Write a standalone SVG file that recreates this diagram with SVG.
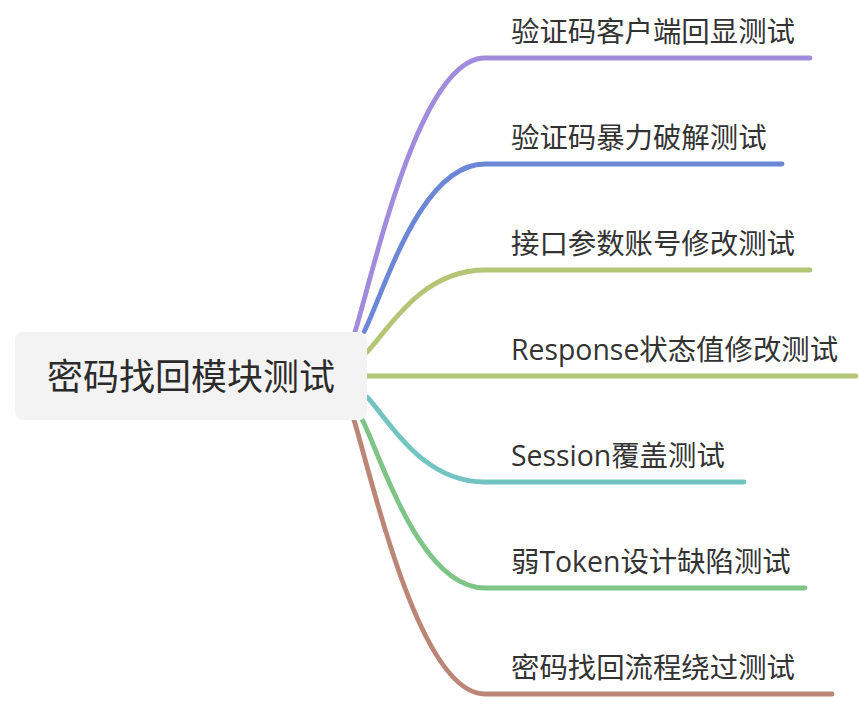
<svg xmlns="http://www.w3.org/2000/svg" width="860" height="712" viewBox="0 0 860 712">
<style>
.br{fill:none;stroke-width:4.8;stroke-linecap:round}
.leaf{font-family:"Open Sans","Noto Sans CJK SC",sans-serif;font-size:28.4px;fill:#333333}
.root{font-family:"Open Sans","Noto Sans CJK SC",sans-serif;font-size:36px;fill:#2b2b2b}
</style>
<rect width="860" height="712" fill="#ffffff"/>
<g id="connectors">
<path class="br" stroke="#a08bdc" d="M355,332 C375,266 420,58 485,58 H810"/>
<path class="br" stroke="#6b87d6" d="M364,332 C384,292 420,164 485,164 H782"/>
<path class="br" stroke="#b4c576" d="M367,352 C387,332 420,270 485,270 H810"/>
<path class="br" stroke="#b4c576" d="M367,376 H856"/>
<path class="br" stroke="#73c4c0" d="M367,397 C387,417 420,482 485,482 H744"/>
<path class="br" stroke="#7dc486" d="M362,419 C382,459 420,588 485,588 H805"/>
<path class="br" stroke="#bb8675" d="M354,420 C374,486 420,694 485,694 H832"/>
</g>
<g id="root">
<rect x="15" y="332" width="352" height="88" rx="8" fill="#f3f3f3"/>
<text class="root" x="191" y="390" text-anchor="middle">密码找回模块测试</text>
</g>
<g id="n1"><text class="leaf" x="511" y="42">验证码客户端回显测试</text></g>
<g id="n2"><text class="leaf" x="511" y="148">验证码暴力破解测试</text></g>
<g id="n3"><text class="leaf" x="511" y="254">接口参数账号修改测试</text></g>
<g id="n4"><text class="leaf" x="511" y="360">Response状态值修改测试</text></g>
<g id="n5"><text class="leaf" x="511" y="466">Session覆盖测试</text></g>
<g id="n6"><text class="leaf" x="511" y="572">弱Token设计缺陷测试</text></g>
<g id="n7"><text class="leaf" x="511" y="678">密码找回流程绕过测试</text></g>
</svg>
